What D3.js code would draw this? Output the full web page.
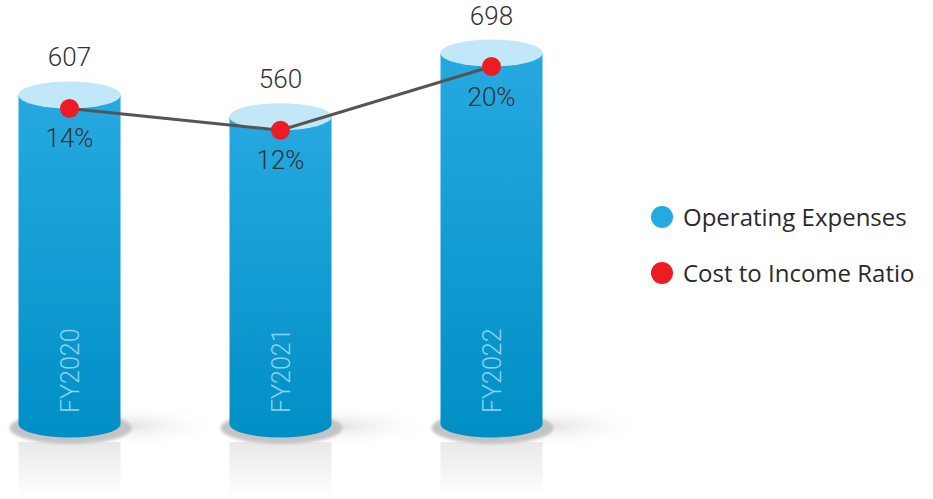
<!DOCTYPE html>
<html>
<head>
<meta charset="utf-8">
<script src="https://cdn.jsdelivr.net/npm/d3@7"></script>
<style>
  html, body { margin: 0; padding: 0; background: #fff; }
  svg { display: block; }
</style>
</head>
<body>
<svg id="chart" width="933" height="499"></svg>
<script>
const categories = ["FY2020", "FY2021", "FY2022"];
const operatingExpenses = [607, 560, 698];
const costToIncome = [14, 12, 20];
const legendLabels = ["Operating Expenses", "Cost to Income Ratio"];

const W = 933, H = 499;
const svg = d3.select("#chart");
const defs = svg.append("defs");

const x = d3.scalePoint().domain(categories).range([69.5, 491.5]);
const y = d3.scaleLinear().domain([0, 698]).range([375, 53]);
const baseY = 424;
const rx = 51, ry = 13.5;

const bodyGrad = defs.append("linearGradient").attr("id", "body").attr("x1", 0).attr("y1", 0).attr("x2", 0).attr("y2", 1);
bodyGrad.append("stop").attr("offset", "0%").attr("stop-color", "#26a9e0");
bodyGrad.append("stop").attr("offset", "100%").attr("stop-color", "#008fc5");

const reflGrad = defs.append("linearGradient").attr("id", "refl").attr("x1", 0).attr("y1", 0).attr("x2", 0).attr("y2", 1);
reflGrad.append("stop").attr("offset", "0%").attr("stop-color", "#e9e9e9");
reflGrad.append("stop").attr("offset", "100%").attr("stop-color", "#ffffff");

const sideGrad = defs.append("radialGradient").attr("id", "side");
sideGrad.append("stop").attr("offset", "0%").attr("stop-color", "#e4e4e4");
sideGrad.append("stop").attr("offset", "100%").attr("stop-color", "#ffffff").attr("stop-opacity", 0);

defs.append("filter").attr("id", "blur2").attr("x", "-20%").attr("y", "-50%").attr("width", "140%").attr("height", "200%")
  .append("feGaussianBlur").attr("stdDeviation", 1.5);

const data = categories.map((c, i) => ({ c, v: operatingExpenses[i], r: costToIncome[i] }));

const g = svg.append("g");

// side shadow
g.selectAll(".side").data(data).join("ellipse")
  .attr("cx", d => x(d.c) + 60).attr("cy", baseY + 2)
  .attr("rx", 95).attr("ry", 22)
  .attr("fill", "url(#side)");

// reflection
g.selectAll(".refl").data(data).join("rect")
  .attr("x", d => x(d.c) - rx).attr("y", baseY + 18)
  .attr("width", rx * 2).attr("height", H - baseY - 18)
  .attr("fill", "url(#refl)");

// base shadow
g.selectAll(".shadow").data(data).join("ellipse")
  .attr("cx", d => x(d.c) + 1).attr("cy", baseY + 4)
  .attr("rx", 61).attr("ry", 16)
  .attr("fill", "#c4c4c4")
  .attr("filter", "url(#blur2)");

// bodies
g.selectAll(".body").data(data).join("path")
  .attr("d", d => {
    const cx = x(d.c), t = y(d.v);
    return `M${cx - rx},${t} L${cx - rx},${baseY} A${rx},${ry} 0 0 0 ${cx + rx},${baseY} L${cx + rx},${t} Z`;
  })
  .attr("fill", "url(#body)");

// tops
g.selectAll(".top").data(data).join("ellipse")
  .attr("cx", d => x(d.c)).attr("cy", d => y(d.v))
  .attr("rx", rx).attr("ry", ry)
  .attr("fill", "#c1e7f9");

// category labels
g.selectAll(".cat").data(data).join("text")
  .attr("transform", d => `translate(${x(d.c) + 9.5},${baseY - 11}) rotate(-90)`)
  .attr("text-anchor", "start")
  .attr("font-family", "Roboto, 'Open Sans', sans-serif")
  .attr("font-weight", 300)
  .attr("font-size", 25)
  .attr("fill", "#8dd3f3")
  .text(d => d.c);

// value labels
g.selectAll(".val").data(data).join("text")
  .attr("x", d => x(d.c)).attr("y", d => y(d.v) - ry - 15)
  .attr("text-anchor", "middle")
  .attr("font-family", "Roboto, 'Open Sans', sans-serif")
  .attr("font-weight", 300)
  .attr("font-size", 26)
  .attr("fill", "#333")
  .text(d => d.v);

// line
const line = d3.line().x(d => x(d.c)).y(d => y(d.v) + ry);
g.append("path").datum(data)
  .attr("d", line)
  .attr("fill", "none")
  .attr("stroke", "#555")
  .attr("stroke-width", 3);

g.selectAll(".dot").data(data).join("circle")
  .attr("cx", d => x(d.c)).attr("cy", d => y(d.v) + ry)
  .attr("r", 9.5)
  .attr("fill", "#ed1c24");

g.selectAll(".pct").data(data).join("text")
  .attr("x", d => x(d.c)).attr("y", d => y(d.v) + ry + 39)
  .attr("text-anchor", "middle")
  .attr("font-family", "Roboto, 'Open Sans', sans-serif")
  .attr("font-weight", 300)
  .attr("font-size", 26)
  .attr("fill", "#333")
  .text(d => d.r + "%");

// legend
const legendColors = ["#22aae2", "#ed1c24"];
const lg = svg.append("g").attr("transform", "translate(662,217)");
const li = lg.selectAll("g").data(legendLabels).join("g")
  .attr("transform", (d, i) => `translate(0,${i * 56})`);
li.append("circle").attr("r", 11).attr("fill", (d, i) => legendColors[i]);
li.append("text").attr("x", 21).attr("y", 8.5)
  .attr("font-family", "'Open Sans', sans-serif")
  .attr("font-size", 24)
  .attr("fill", "#2a2a2a")
  .text(d => d);
</script>
</body>
</html>
